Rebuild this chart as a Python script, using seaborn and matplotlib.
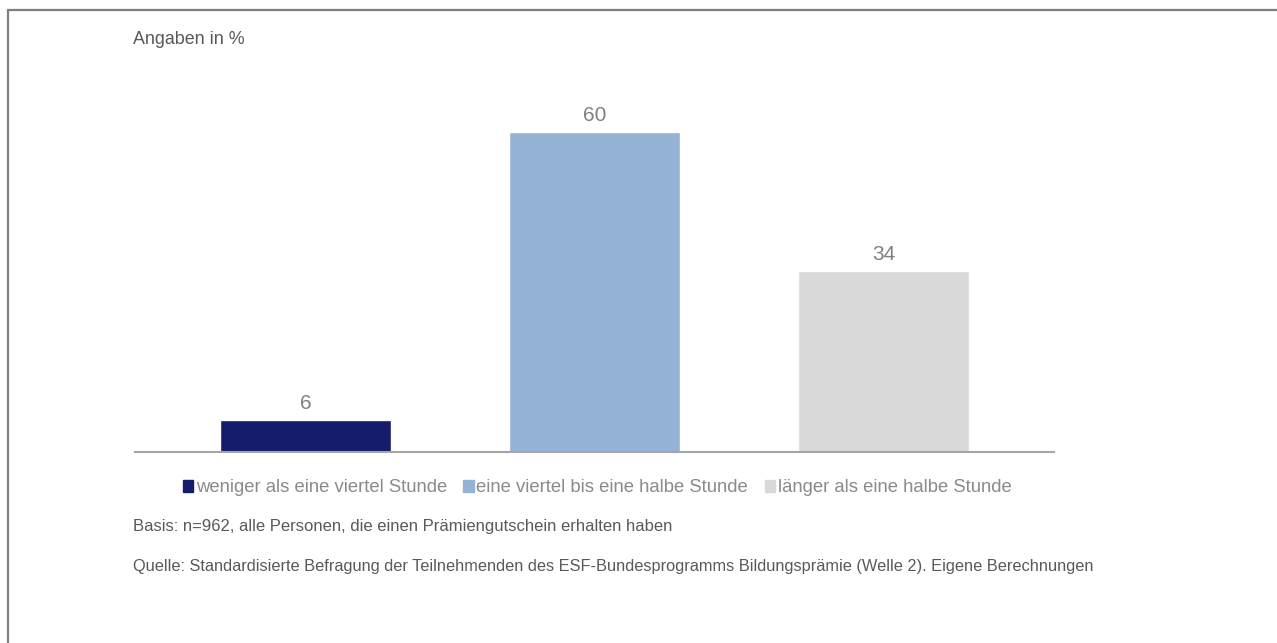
import matplotlib
matplotlib.use("Agg")
import matplotlib.pyplot as plt
import seaborn as sns
from matplotlib.lines import Line2D

# data
categories = ["weniger als eine viertel Stunde",
              "eine viertel bis eine halbe Stunde",
              "länger als eine halbe Stunde"]
values = [6, 60, 34]
colors = ["#141C6B", "#95B3D7", "#D9D9D9"]

sns.set_style("white")
plt.rcParams['font.family'] = ['Liberation Sans', 'DejaVu Sans']

W, H = 1277, 643
fig = plt.figure(figsize=(W / 100, H / 100), dpi=100)
ax = fig.add_axes([135 / W, (H - 452) / H, (1054 - 135) / W, (452 - 100) / H])

sns.barplot(x=categories, y=values, hue=categories, palette=colors,
            width=0.59, saturation=1, legend=False, ax=ax)

ax.set_xlim(-0.59, 2.59)
ax.set_ylim(0, 66)
for i, v in enumerate(values):
    ax.text(i, v + 1.3, str(v), ha="center", va="bottom",
            fontsize=15, color="#808080")

for s in ["top", "right", "left"]:
    ax.spines[s].set_visible(False)
ax.spines["bottom"].set_color("#A6A6A6")
ax.spines["bottom"].set_linewidth(1.5)
ax.set_yticks([])
ax.set_xticks([-0.59, 2.59])
ax.set_xticklabels(["", ""])
ax.tick_params(axis="x", direction="out", length=4, width=1.2, color="#A6A6A6")
ax.set_xlabel("")
ax.set_ylabel("")

# legend
handles = [plt.Rectangle((0, 0), 1, 1, color=c) for c in colors]
fig.legend(handles, categories, loc="center", bbox_to_anchor=(597 / W, 1 - 488 / H),
           ncol=3, frameon=False, fontsize=13.3, labelcolor="#8A8A8A",
           handlelength=0.55, handleheight=0.55, handletextpad=0.15, columnspacing=0.9)

# texts
fig.text(133 / W, 1 - 40 / H, "Angaben in %", fontsize=12.9, color="#595959", va="center")
fig.text(133 / W, 1 - 526 / H,
         "Basis: n=962, alle Personen, die einen Prämiengutschein erhalten haben",
         fontsize=12, color="#595959", va="center")
fig.text(133 / W, 1 - 566 / H,
         "Quelle: Standardisierte Befragung der Teilnehmenden des ESF-Bundesprogramms Bildungsprämie (Welle 2). Eigene Berechnungen",
         fontsize=11.8, color="#595959", va="center")

# frame (left and top only)
fig.add_artist(Line2D([7.5 / W, 7.5 / W], [0, 1 - 10 / H], color="#7F7F7F", lw=1.6,
                      transform=fig.transFigure))
fig.add_artist(Line2D([7.5 / W, 1], [1 - 10 / H, 1 - 10 / H], color="#7F7F7F", lw=1.6,
                      transform=fig.transFigure))

fig.savefig("out.png", dpi=100)
